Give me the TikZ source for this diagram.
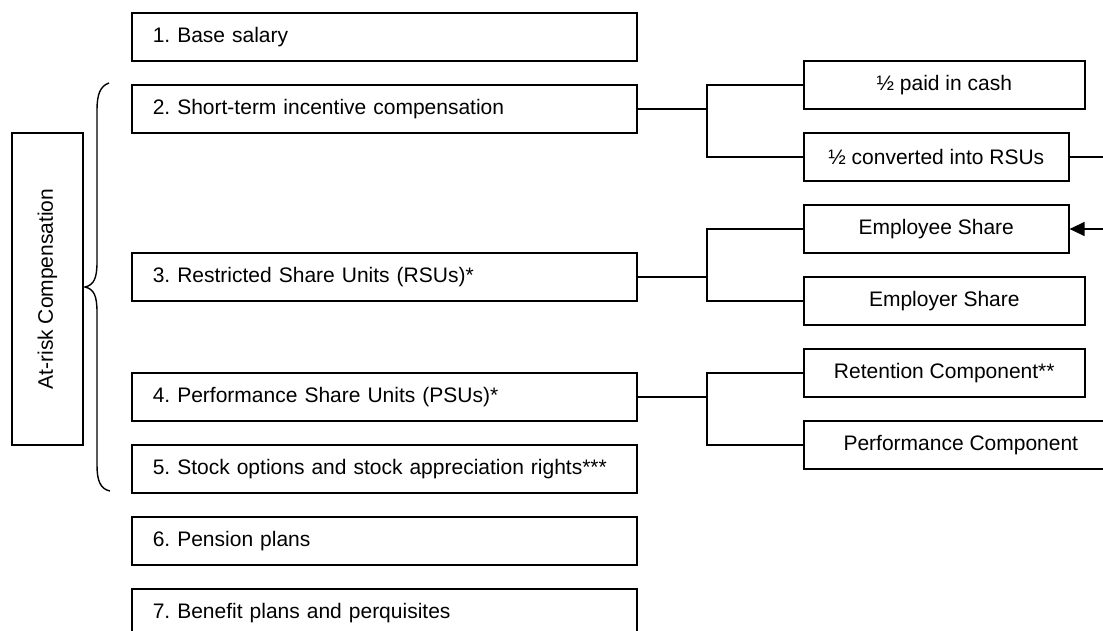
\documentclass[tikz,border=0pt]{standalone}
\usepackage{fontspec}
\setmainfont{Liberation Sans}
\usetikzlibrary{arrows.meta}

\begin{document}
\begin{tikzpicture}[x=1pt,y=-1pt,
    every node/.style={font=\fontsize{21}{25}\selectfont},
    item/.style={draw,line width=1.6pt,anchor=west,minimum height=48pt,
      text width=463pt,inner xsep=21pt,align=left},
    part/.style={draw,line width=1.6pt,anchor=west,minimum height=48pt},
    link/.style={line width=1.4pt}]
  % Page
  \useasboundingbox (0,0) rectangle (1103,630);
  \clip (0,0) rectangle (1103,630);
  % Compensation components
  \node[item] (base) at (131,37) {1.\ Base salary};
  \node[item] (stic) at (131,109) {2.\ Short-term incentive compensation};
  \node[item] (rsu) at (131,277) {3.\ Restricted Share Units (RSUs)*};
  \node[item] (psu) at (131,397) {4.\ Performance Share Units (PSUs)*};
  \node[item] (opt) at (131,469) {5.\ Stock options and stock appreciation rights***};
  \node[item] (pens) at (131,541) {6.\ Pension plans};
  \node[item] (bene) at (131,613) {7.\ Benefit plans and perquisites};
  % At-risk label and brace
  \node[draw,line width=1.6pt,rotate=90,minimum width=312pt,minimum height=71pt] (risk) at (47.5,289) {At-risk Compensation};
  \draw[link] (109,83) .. controls (100,86) and (97,95) .. (97,110) -- (97,262)
    .. controls (97,278) and (94,285) .. (85,287)
    .. controls (94,289) and (97,296) .. (97,312) -- (97,465)
    .. controls (97,480) and (100,489) .. (110,491);
  % Sub-components
  \node[part,minimum width=281pt] (paid) at (803,85) {½ paid in cash};
  \node[part,minimum width=265pt] (conv) at (803,157) {½ converted into RSUs};
  \node[part,minimum width=265pt] (emp) at (803,229) {Employee Share};
  \node[part,minimum width=281pt] (empr) at (803,301) {Employer Share};
  \node[part,minimum width=281pt] (ret) at (803,373) {Retention Component**};
  \node[part,minimum width=314pt] (perf) at (803,445) {Performance Component};
  % Branches
  \coordinate (j1) at (707,109);
  \coordinate (j2) at (707,277);
  \coordinate (j3) at (707,397);
  \coordinate (fb) at (1125,193);
  \draw[link] (stic.east) -- (j1);
  \draw[link] (paid.west) -| (j1) |- (conv.west);
  \draw[link] (rsu.east) -- (j2);
  \draw[link] (emp.west) -| (j2) |- (empr.west);
  \draw[link] (psu.east) -- (j3);
  \draw[link] (ret.west) -| (j3) |- (perf.west);
  % Converted STIC feeds the employee share
  \draw[link,-{Triangle[length=15pt,width=14pt]}] (conv.east) -| (fb) |- (emp.east);
\end{tikzpicture}
\end{document}
